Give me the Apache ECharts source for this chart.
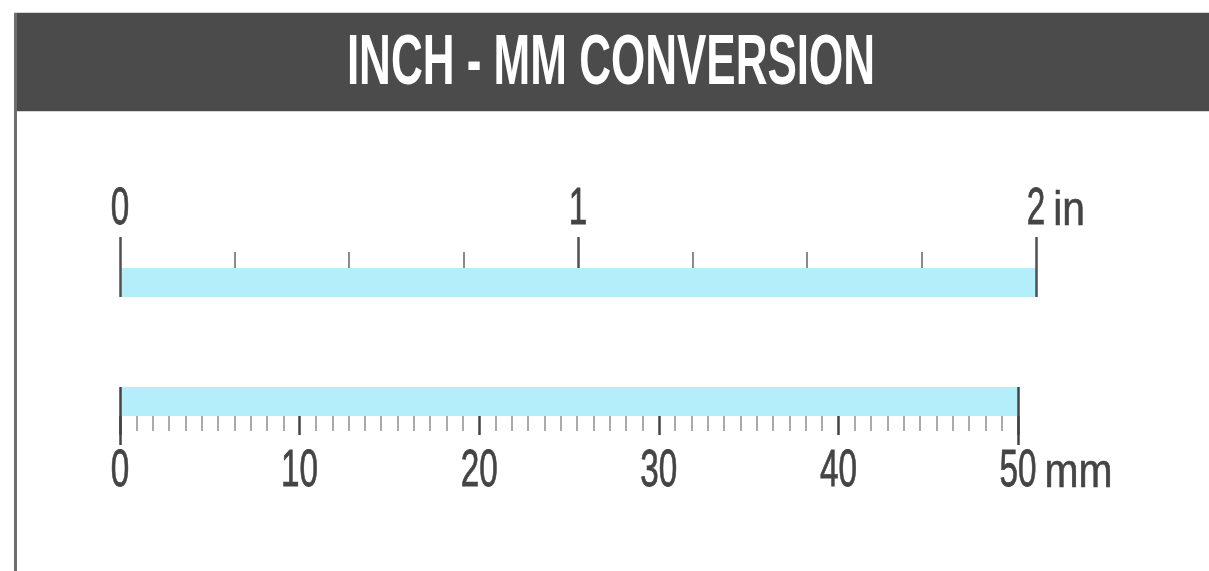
<!DOCTYPE html>
<html>
<head>
<meta charset="utf-8">
<script src="https://cdn.jsdelivr.net/npm/echarts@6/dist/echarts.min.js"></script>
<style>
html,body{margin:0;padding:0;background:#fff;}
#chart{width:1209px;height:571px;}
</style>
</head>
<body>
<div id="chart"></div>
<script>
// ---- data ----
var titleText = 'INCH - MM CONVERSION';
var inchCategory = ['inch'];
var inchLength = [2];
var inchTicks = [0, 1, 2];
var inchTickLabels = ['0', '1', '2'];
var inchUnit = 'in';
var mmCategory = ['mm'];
var mmLength = [50];
var mmTicks = [0, 10, 20, 30, 40, 50];
var mmTickLabels = ['0', '10', '20', '30', '40', '50'];
var mmUnit = 'mm';

var chart = echarts.init(document.getElementById('chart'));
var FONT = '"Liberation Sans", Arial, sans-serif';
var DARK = '#505050';

var option = {
  animation: false,
  backgroundColor: '#ffffff',
  grid: [
    { left: 120, width: 916, top: 268, height: 29 },
    { left: 120, width: 898, top: 387, height: 29 }
  ],
  xAxis: [
    { // inch main
      gridIndex: 0, type: 'value', position: 'top',
      min: 0, max: 2, interval: 1,
      axisLine: { show: false },
      axisTick: { show: true, length: 31, lineStyle: { color: DARK, width: 2.5 } },
      minorTick: { show: true, splitNumber: 4, length: 16, lineStyle: { color: '#8a8a8a', width: 2 } },
      splitLine: { show: false },
      axisLabel: { show: false }
    },
    { // inch end lines
      gridIndex: 0, type: 'value', position: 'top', z: 5,
      min: 0, max: 2, interval: 2,
      axisLine: { show: false },
      axisTick: { show: false },
      splitLine: { show: true, lineStyle: { color: DARK, width: 2.5 } },
      axisLabel: { show: false }
    },
    { // mm main
      gridIndex: 1, type: 'value', position: 'bottom',
      min: 0, max: 50, interval: 10,
      axisLine: { show: false },
      axisTick: { show: true, length: 19, lineStyle: { color: '#444', width: 2.5 } },
      minorTick: { show: true, splitNumber: 11, length: 15, lineStyle: { color: '#aaaaaa', width: 2 } },
      splitLine: { show: false },
      axisLabel: { show: false }
    },
    { // mm end lines
      gridIndex: 1, type: 'value', position: 'bottom', z: 5,
      min: 0, max: 50, interval: 50,
      axisLine: { show: false },
      axisTick: { show: true, length: 29, lineStyle: { color: '#444', width: 2.5 } },
      splitLine: { show: true, lineStyle: { color: '#444', width: 2.5 } },
      axisLabel: { show: false }
    }
  ],
  yAxis: [
    { gridIndex: 0, type: 'category', data: inchCategory, show: false },
    { gridIndex: 1, type: 'category', data: mmCategory, show: false }
  ],
  series: [
    { type: 'bar', xAxisIndex: 0, yAxisIndex: 0, data: inchLength, barWidth: '100%',
      itemStyle: { color: '#b4eefb' }, silent: true },
    { type: 'bar', xAxisIndex: 2, yAxisIndex: 1, data: mmLength, barWidth: '100%',
      itemStyle: { color: '#b4eefb' }, silent: true }
  ]
};
chart.setOption(option);

// ---- frame, title and tick labels (positions from the axes' scales) ----
var DIGIT_SIZE = 52, DIGIT_SCALE = 0.64, DIGIT_ADV = 0.556 * DIGIT_SIZE * DIGIT_SCALE;
var UNIT_SIZE = 48, UNIT_SCALE = 0.85;
var TEXT_COLOR = '#444444';
var graphics = [
  { type: 'rect', shape: { x: 14, y: 12, width: 1200, height: 100 }, style: { fill: '#d6d6d6' }, z: 10 },
  { type: 'rect', shape: { x: 14, y: 13, width: 1200, height: 98 }, style: { fill: '#4b4b4b' }, z: 11 },
  { type: 'rect', shape: { x: 14, y: 13, width: 3, height: 560 }, style: { fill: '#6e6e6e' }, z: 12 },
  { type: 'text', x: 611, y: 64, scaleX: 0.62, z: 13,
    style: { text: titleText, fill: '#ffffff', font: 'bold 71px ' + FONT, textAlign: 'center', textVerticalAlign: 'middle' } }
];

function addLabels(axisIndex, ticks, labels, unit, cy) {
  ticks.forEach(function (v, i) {
    var px = chart.convertToPixel({ xAxisIndex: axisIndex }, v);
    graphics.push({ type: 'text', x: px, y: cy, scaleX: DIGIT_SCALE, z: 13,
      style: { text: labels[i], fill: TEXT_COLOR, stroke: TEXT_COLOR, lineWidth: 0.8,
        font: DIGIT_SIZE + 'px ' + FONT, textAlign: 'center', textVerticalAlign: 'middle' } });
    if (i === ticks.length - 1) {
      graphics.push({ type: 'text', x: px + labels[i].length * DIGIT_ADV / 2 + 8, y: cy + 2, scaleX: UNIT_SCALE, z: 13,
        style: { text: unit, fill: TEXT_COLOR, stroke: TEXT_COLOR, lineWidth: 0.6,
          font: UNIT_SIZE + 'px ' + FONT, textAlign: 'left', textVerticalAlign: 'middle' } });
    }
  });
}
addLabels(0, inchTicks, inchTickLabels, inchUnit, 210);
addLabels(2, mmTicks, mmTickLabels, mmUnit, 472);

chart.setOption({ graphic: { elements: graphics } });
</script>
</body>
</html>
